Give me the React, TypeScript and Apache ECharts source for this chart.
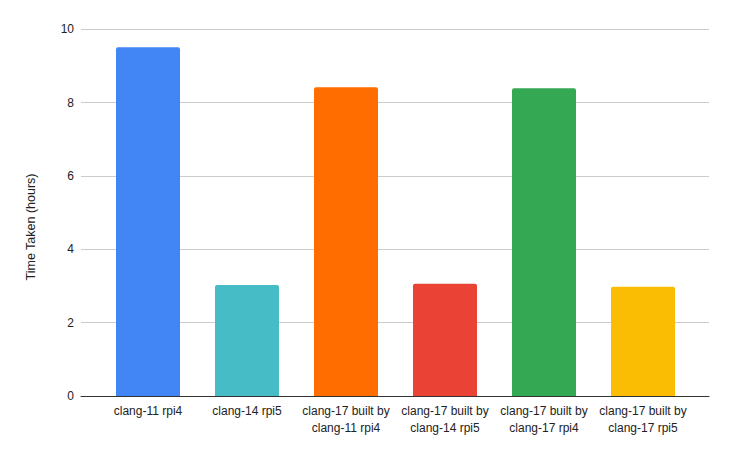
import React, { useEffect, useRef } from "react";
import * as echarts from "echarts";

const categories = [
  "clang-11 rpi4",
  "clang-14 rpi5",
  "clang-17 built by\nclang-11 rpi4",
  "clang-17 built by\nclang-14 rpi5",
  "clang-17 built by\nclang-17 rpi4",
  "clang-17 built by\nclang-17 rpi5",
];
const values = [9.51, 3.03, 8.42, 3.06, 8.39, 2.98];
const colors = ["#4285F4", "#46BDC6", "#FF6D01", "#EA4335", "#34A853", "#FBBC04"];
const yAxisTitle = "Time Taken (hours)";

const FONT = "'Liberation Sans', Arial, sans-serif";

export default function App() {
  const ref = useRef<HTMLDivElement>(null);
  useEffect(() => {
    if (!ref.current) return;
    const chart = echarts.init(ref.current, undefined, { renderer: "svg" });
    chart.setOption({
      animation: false,
      backgroundColor: "#ffffff",
      textStyle: { fontFamily: FONT },
      grid: [
        { left: 81, right: 23, top: 29.3, bottom: 57, containLabel: false },
        { left: 98.5, right: 39.5, top: 29.3, bottom: 57, containLabel: false },
      ],
      graphic: [
        {
          type: "text",
          x: 31,
          y: 227,
          rotation: Math.PI / 2,
          style: {
            text: yAxisTitle,
            fill: "#222222",
            fontSize: 12.5,
            fontFamily: FONT,
            align: "center",
            verticalAlign: "middle",
          },
        },
      ],
      xAxis: [
        {
          gridIndex: 0,
          type: "value",
          min: 0,
          max: 1,
          axisLine: { show: true, onZero: false, lineStyle: { color: "#333333", width: 1 } },
          axisTick: { show: false },
          axisLabel: { show: false },
          splitLine: { show: false },
        },
        {
          gridIndex: 1,
          type: "category",
          data: categories,
          axisLine: { show: false },
          axisTick: { show: false },
          axisLabel: {
            interval: 0,
            color: "#222222",
            fontSize: 12,
            fontFamily: FONT,
            lineHeight: 17,
            margin: 6,
          },
        },
      ],
      yAxis: [
        {
          gridIndex: 0,
          type: "value",
          min: 0,
          max: 10,
          interval: 2,
          axisLine: { show: false },
          axisTick: { show: false },
          axisLabel: { color: "#222222", fontSize: 12, fontFamily: FONT, margin: 7 },
          splitLine: { show: true, lineStyle: { color: "#cccccc", width: 1 } },
        },
        {
          gridIndex: 1,
          type: "value",
          min: 0,
          max: 10,
          interval: 2,
          show: false,
          splitLine: { show: false },
        },
      ],
      series: [
        {
          type: "bar",
          xAxisIndex: 1,
          yAxisIndex: 1,
          barWidth: 64,
          data: values.map((v, i) => ({
            value: v,
            itemStyle: { color: colors[i], borderRadius: [2, 2, 0, 0] },
          })),
        },
      ],
    });
    return () => chart.dispose();
  }, []);
  return (
    <div
      ref={ref}
      style={{ position: "fixed", left: 0, top: 0, width: 732, height: 453, background: "#fff" }}
    />
  );
}
